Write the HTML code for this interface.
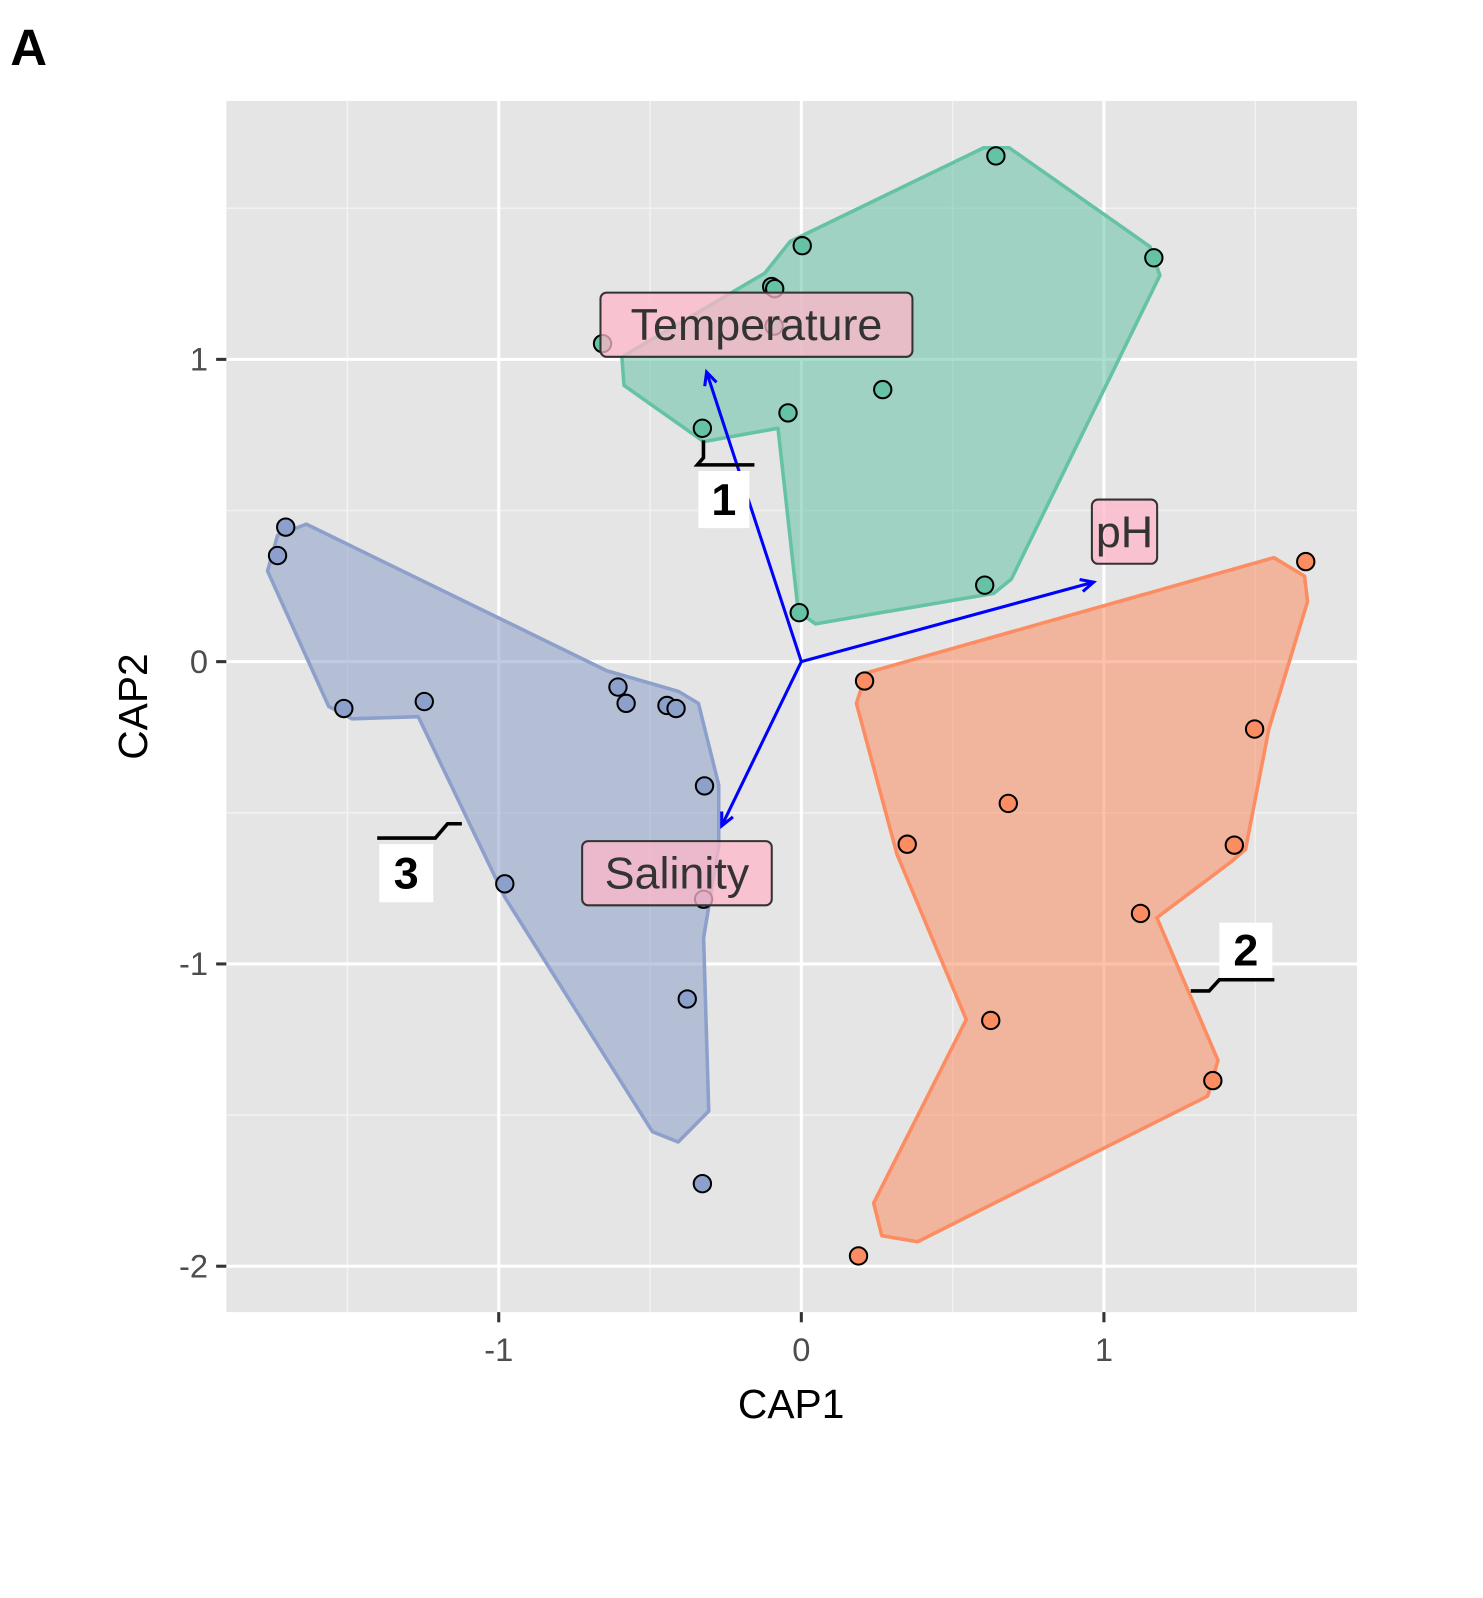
<!DOCTYPE html>
<html><head><meta charset="utf-8">
<style>
html,body{margin:0;padding:0;background:#fff;}
svg{display:block;font-family:"Liberation Sans",Arial,sans-serif;}
</style></head>
<body>
<svg id="chart" width="1483" height="1598" viewBox="0 0 1483 1598">
<g transform="scale(1.0195)">
<text x="10" y="64" font-size="50" font-weight="bold">A</text>
<rect x="222" y="99" width="1109" height="1188" fill="#e5e5e5"/>
<g id="grid"></g>
<g id="hulls"></g>
<g id="arrows"></g>
<g id="points"></g>
<g id="labels"></g>
<g id="axes"></g>
<text x="776" y="1391" font-size="40" text-anchor="middle">CAP1</text>
<text x="0" y="0" font-size="40" text-anchor="middle" transform="translate(144,693) rotate(-90)">CAP2</text>
</g>
</svg>
<script>
const xTicks=[-1,0,1];
const yTicks=[-2,-1,0,1];
const xTickLabels=["-1","0","1"];
const yTickLabels=["-2","-1","0","1"];
const xMinor=[-1.5,-0.5,0.5,1.5];
const yMinor=[-1.5,-0.5,0.5,1.5];
const cluster1=[[0.643,1.673],[0.003,1.376],[1.165,1.336],[-0.098,1.241],[-0.088,1.234],[-0.657,1.052],[-0.09,1.11],[0.269,0.900],[-0.044,0.823],[-0.327,0.772],[0.606,0.253],[-0.007,0.162]];
const cluster2=[[1.667,0.331],[0.209,-0.064],[1.498,-0.223],[0.684,-0.469],[0.350,-0.604],[1.431,-0.607],[1.121,-0.833],[0.626,-1.187],[1.360,-1.386],[0.189,-1.966]];
const cluster3=[[-1.704,0.445],[-1.731,0.351],[-1.512,-0.155],[-1.246,-0.132],[-0.606,-0.084],[-0.579,-0.138],[-0.444,-0.145],[-0.414,-0.155],[-0.320,-0.411],[-0.980,-0.735],[-0.323,-0.786],[-0.377,-1.116],[-0.327,-1.727]];
const hull1=[[-0.037,1.390],[0.603,1.700],[0.687,1.700],[1.152,1.373],[1.185,1.278],[0.694,0.273],[0.636,0.226],[0.047,0.125],[-0.010,0.165],[-0.077,0.772],[-0.323,0.728],[-0.586,0.914],[-0.593,1.008],[-0.121,1.285]];
const hull2=[[1.562,0.344],[1.663,0.283],[1.673,0.199],[1.545,-0.223],[1.468,-0.621],[1.418,-0.664],[1.175,-0.847],[1.377,-1.319],[1.343,-1.437],[0.384,-1.919],[0.266,-1.899],[0.239,-1.791],[0.545,-1.184],[0.316,-0.637],[0.182,-0.138],[0.215,-0.037]];
const hull3=[[-1.636,0.455],[-0.643,-0.030],[-0.407,-0.098],[-0.340,-0.138],[-0.273,-0.408],[-0.273,-0.610],[-0.323,-0.914],[-0.306,-1.487],[-0.407,-1.589],[-0.492,-1.555],[-0.980,-0.779],[-1.266,-0.182],[-1.485,-0.189],[-1.562,-0.148],[-1.764,0.300],[-1.731,0.418]];
const arrowNames=["Temperature","pH","Salinity"];
const arrowX=[-0.313,0.966,-0.263];
const arrowY=[0.958,0.263,-0.543];

const NS="http://www.w3.org/2000/svg";
function sx(v){return 786+v*296.8;}
function sy(v){return 649-v*296.5;}
function mk(tag,attrs,parent){const e=document.createElementNS(NS,tag);for(const k in attrs)e.setAttribute(k,attrs[k]);parent.appendChild(e);return e;}
const X0=222,X1=1331,Y0=99,Y1=1287;
const grid=document.getElementById('grid');
xMinor.forEach(v=>{const l=mk('line',{x1:sx(v),x2:sx(v),y1:Y0,y2:Y1,stroke:'#f2f2f2','stroke-width':1.5},grid);

});
yMinor.forEach(v=>{const l=mk('line',{x1:X0,x2:X1,y1:sy(v),y2:sy(v),stroke:'#f2f2f2','stroke-width':1.5},grid);

});
xTicks.forEach(v=>{const l=mk('line',{x1:sx(v),x2:sx(v),y1:Y0,y2:Y1,stroke:'#fff','stroke-width':3},grid);

});
yTicks.forEach(v=>{const l=mk('line',{x1:X0,x2:X1,y1:sy(v),y2:sy(v),stroke:'#fff','stroke-width':3},grid);

});

const hulls=document.getElementById('hulls');
const hcols=['#66c2a5','#fc8d62','#8da0cb'];
[hull1,hull2,hull3].forEach((h,i)=>{
 const p=mk('polygon',{points:h.map(q=>sx(q[0])+','+sy(q[1])).join(' '),fill:hcols[i],'fill-opacity':0.55,stroke:hcols[i],'stroke-width':3.5,'stroke-linejoin':'round'},hulls);
 
 
});

const arrows=document.getElementById('arrows');
arrowNames.forEach((n,i)=>{
 const x0=sx(0),y0=sy(0),x1=sx(arrowX[i]),y1=sy(arrowY[i]);
 const a=mk('line',{x1:x0,y1:y0,x2:x1,y2:y1,stroke:'#0000ff','stroke-width':3},arrows);
 
 
 const ang=Math.atan2(y1-y0,x1-x0),L=14,w=0.45;
 const h=mk('polyline',{points:(x1-L*Math.cos(ang-w))+','+(y1-L*Math.sin(ang-w))+' '+x1+','+y1+' '+(x1-L*Math.cos(ang+w))+','+(y1-L*Math.sin(ang+w)),fill:'none',stroke:'#0000ff','stroke-width':3},arrows);
 
 
});

const pts=document.getElementById('points');
[cluster1,cluster2,cluster3].forEach((c,i)=>{c.forEach(q=>{
 const e=mk('circle',{cx:sx(q[0]),cy:sy(q[1]),r:8.5,fill:hcols[i],stroke:'#000','stroke-width':2},pts);
 
 
});});

const labs=document.getElementById('labels');
const lb=[["Temperature",589,287,306,63],["pH",1071,490,64,63],["Salinity",571,825,186,63]];
lb.forEach(b=>{
 const r=mk('rect',{x:b[1],y:b[2],width:b[3],height:b[4],rx:6,fill:'#ffb6c8','fill-opacity':0.75,stroke:'#333','stroke-width':2},labs);
 
 
 const t=mk('text',{x:b[1]+b[3]/2,y:b[2]+b[4]/2+15,'font-size':44,'text-anchor':'middle',fill:'#333'},labs);
 t.textContent=b[0];
 
 
});
const cl=[["1",685,462,50,56,"M690,432 L690,449 L684,456 L740,456"],["3",372,828,53,57,"M370,822 L427,822 L439,808 L453,808"],["2",1196,905,52,54,"M1250,961 L1196,961 L1186,972 L1168,972"]];
cl.forEach(c=>{
 const p=mk('path',{d:c[5],fill:'none',stroke:'#000','stroke-width':3.5},labs);
 
 
 const r=mk('rect',{x:c[1],y:c[2],width:c[3],height:c[4],fill:'#fff'},labs);
 
 
 const t=mk('text',{x:c[1]+c[3]/2,y:c[2]+c[4]/2+15,'font-size':44,'font-weight':'bold','text-anchor':'middle'},labs);
 t.textContent=c[0];
 
 
});

const axes=document.getElementById('axes');
xTicks.forEach((v,i)=>{
 const l=mk('line',{x1:sx(v),x2:sx(v),y1:Y1,y2:Y1+10,stroke:'#333','stroke-width':3},axes);
 
 
 const t=mk('text',{x:sx(v),y:Y1+48,'font-size':32,'text-anchor':'middle',fill:'#4d4d4d'},axes);
 t.textContent=xTickLabels[i];
 
 
});
yTicks.forEach((v,i)=>{
 const l=mk('line',{x1:X0-10,x2:X0,y1:sy(v),y2:sy(v),stroke:'#333','stroke-width':3},axes);
 
 
 const t=mk('text',{x:X0-18,y:sy(v)+11,'font-size':32,'text-anchor':'end',fill:'#4d4d4d'},axes);
 t.textContent=yTickLabels[i];
 
 
});
</script>
</body></html>
